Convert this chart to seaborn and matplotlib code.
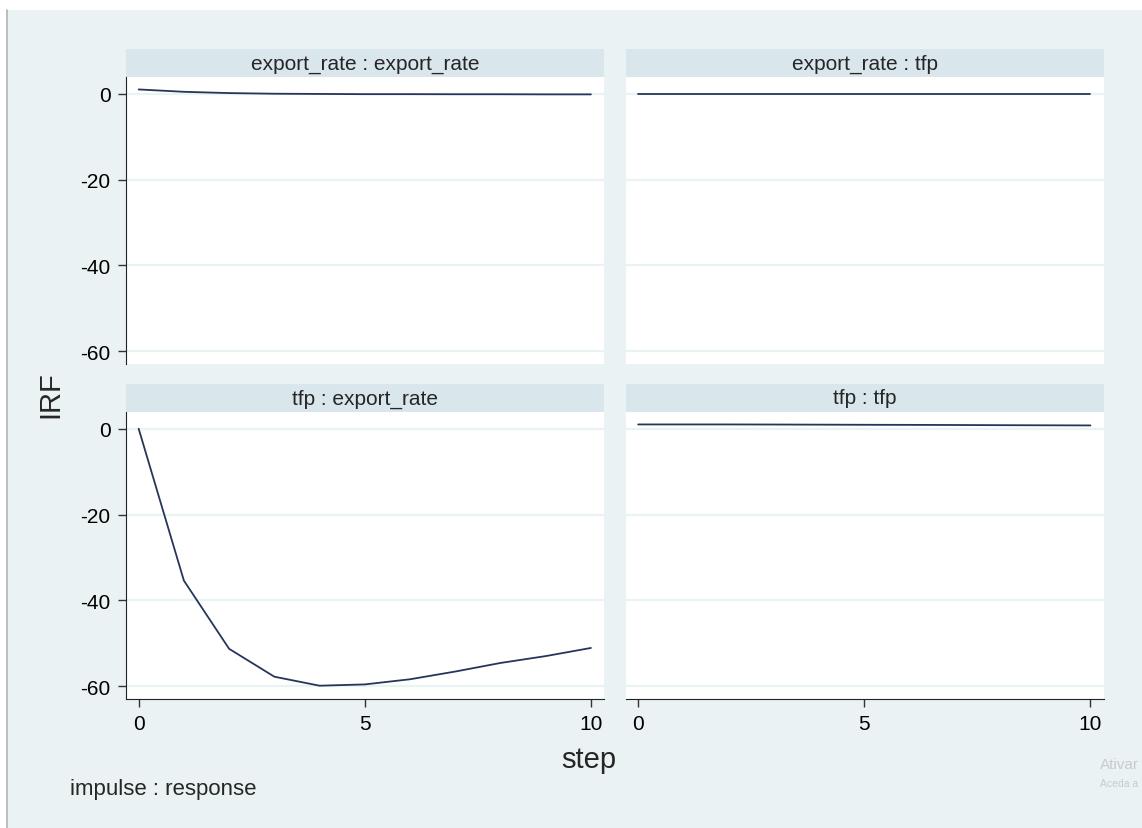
import matplotlib
matplotlib.use("Agg")
import matplotlib.pyplot as plt
import matplotlib.patches as mpatches
import pandas as pd
import seaborn as sns

# IRF values
steps = [0, 1, 2, 3, 4, 5, 6, 7, 8, 9, 10]
er_er = [1.0, 0.45, 0.15, 0.0, -0.05, -0.1, -0.1, -0.12, -0.12, -0.15, -0.15]
er_tfp = [0.0, 0.0, 0.0, 0.0, 0.0, 0.0, 0.0, 0.0, 0.0, 0.0, 0.0]
tfp_er = [0.0, -35.4, -51.3, -57.8, -59.9, -59.6, -58.4, -56.6, -54.6, -53.0, -51.1]
tfp_tfp = [1.0, 1.0, 1.0, 0.98, 0.95, 0.92, 0.9, 0.87, 0.83, 0.8, 0.77]

impulses = ["export_rate", "tfp"]
responses = ["export_rate", "tfp"]
yticks = [0, -20, -40, -60]
xticks = [0, 5, 10]

rows = []
for imp, resp, vals in [("export_rate", "export_rate", er_er),
                        ("export_rate", "tfp", er_tfp),
                        ("tfp", "export_rate", tfp_er),
                        ("tfp", "tfp", tfp_tfp)]:
    for s, v in zip(steps, vals):
        rows.append({"impulse": imp, "response": resp, "step": s, "irf": v})
df = pd.DataFrame(rows)

bg = "#EAF2F3"
strip = "#D9E6EB"
navy = "#27355a"

sns.set_style("white")
plt.rcParams["font.family"] = ["Liberation Sans", "DejaVu Sans"]
plt.rcParams["axes.unicode_minus"] = False

g = sns.relplot(data=df, x="step", y="irf", row="impulse", col="response",
                row_order=impulses, col_order=responses, kind="line",
                color=navy, linewidth=1.3, height=3, aspect=1.4,
                facet_kws={"sharex": True, "sharey": True})
fig = g.figure
fig.set_size_inches(11.42, 8.29)
fig.set_dpi(100)
fig.patch.set_facecolor("white")
fig.subplots_adjust(left=126/1142, right=1104/1142, bottom=1-700/829, top=1-78/829,
                    wspace=21/478, hspace=48/287)

# Stata-like outer region
fig.patches.append(mpatches.Rectangle((8/1142, -0.01), 1, 1.01-11/829, transform=fig.transFigure,
                                      facecolor=bg, edgecolor="none", zorder=-10))
fig.lines.append(plt.Line2D([7/1142, 7/1142], [0, 1-11/829], transform=fig.transFigure,
                            color="#b0b0b0", lw=1.2))

for i, imp in enumerate(impulses):
    for j, resp in enumerate(responses):
        ax = g.axes[i, j]
        ax.set_facecolor("white")
        ax.set_xlim(-0.28, 10.3)
        ax.set_ylim(-63.0, 3.9)
        ax.set_yticks(yticks)
        ax.set_xticks(xticks)
        ax.set_title("")
        ax.set_xlabel("")
        ax.set_ylabel("")
        ax.grid(axis="y", color=bg, lw=1.6)
        ax.grid(axis="x", visible=False)
        ax.set_axisbelow(True)
        for side in ["top", "right", "left", "bottom"]:
            ax.spines[side].set_visible(False)
        ax.tick_params(axis="both", length=6, width=1, color="#333333",
                       labelsize=15, labelcolor="black", pad=5)
        if j == 0:
            ax.spines["left"].set_visible(True)
            ax.spines["left"].set_color("#222222")
            ax.tick_params(axis="y", left=True, labelleft=True)
        else:
            ax.tick_params(axis="y", left=False, labelleft=False)
        if i == 1:
            ax.spines["bottom"].set_visible(True)
            ax.spines["bottom"].set_color("#222222")
            ax.tick_params(axis="x", bottom=True, labelbottom=True)
        else:
            ax.tick_params(axis="x", bottom=False, labelbottom=False)
        # strip header
        ax.add_patch(mpatches.Rectangle((0, 1), 1, 28/287, transform=ax.transAxes,
                                        facecolor=strip, edgecolor="none", clip_on=False))
        ax.text(0.5, 1 + 14/287, f"{imp} : {resp}", transform=ax.transAxes,
                ha="center", va="center", fontsize=15)

fig.text(50/1142, 1-395/829, "IRF", rotation=90, ha="center", va="center", fontsize=21)
fig.text(589/1142, 1-760/829, "step", ha="center", va="center", fontsize=21)
fig.text(70/1142, 1-790/829, "impulse : response", ha="left", va="center", fontsize=16)
fig.text(1100/1142, 1-765/829, "Ativar", ha="left", va="center",
         fontsize=11, color="#c5cbce")
fig.text(1100/1142, 1-784/829, "Aceda a", ha="left", va="center",
         fontsize=7.5, color="#c5cbce")

fig.savefig("out.png", dpi=100, facecolor=fig.get_facecolor())
